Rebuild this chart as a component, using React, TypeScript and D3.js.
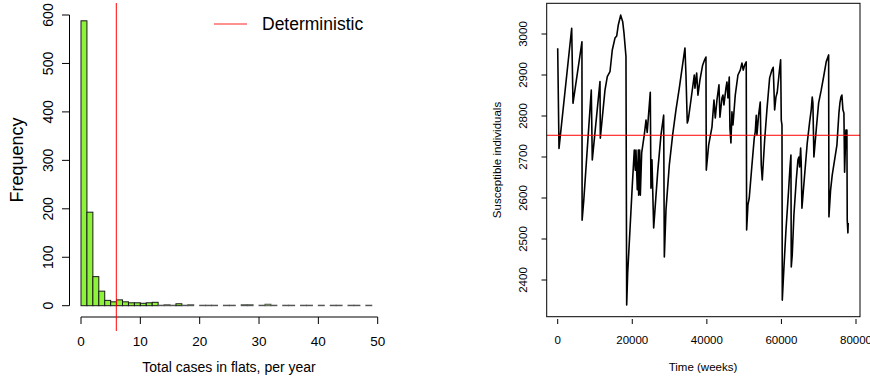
import React from "react";
import * as d3 from "d3";

// Histogram: counts per unit bin starting at 0
const histCounts = [588, 193, 60, 30, 11, 8, 12, 8, 6, 6, 5, 6, 7, 1, 2, 1, 4, 1, 2, 0, 1, 1, 1, 0, 1, 1, 0, 2, 2, 0, 1, 3, 1, 0, 1, 1, 0, 1, 1, 0, 1, 0, 1, 1, 0, 1, 1, 0, 1];
const histXTicks = [0, 10, 20, 30, 40, 50];
const histYTicks = [0, 100, 200, 300, 400, 500, 600];
const deterministicCases = 5.95;

// Time series of susceptible individuals
const seriesWeeks = [0, 350, 3750, 4100, 6500, 6550, 7000, 9008, 9276, 11341, 11430, 12680, 13300, 14020, 14640, 15360, 15820, 16250, 16890, 17430, 17780, 18310, 18500, 18770, 19380, 20000, 20540, 20810, 20990, 21350, 21620, 21710, 21980, 22160, 22520, 23220, 23680, 24000, 24830, 25010, 25280, 25740, 26810, 27700, 28420, 28600, 29040, 29930, 30830, 31720, 32610, 34130, 34400, 34750, 35000, 35740, 36630, 36810, 37270, 37610, 38150, 38870, 39410, 39760, 39850, 40480, 41370, 41910, 42260, 42710, 43250, 43510, 44050, 44320, 44580, 45120, 45390, 45660, 46010, 46190, 46460, 46730, 47000, 47620, 48340, 48960, 49410, 49760, 50130, 50560, 50670, 51020, 51370, 52090, 52710, 52980, 53250, 53430, 53880, 54320, 54590, 54860, 55500, 56110, 56840, 57450, 57800, 58180, 58530, 58880, 59420, 59790, 59960, 60150, 60230, 60680, 61220, 61930, 62280, 62550, 62640, 62900, 63350, 63980, 64430, 64690, 64880, 65150, 65310, 65500, 66220, 66920, 67560, 67990, 68260, 68440, 68710, 69330, 69980, 70670, 71400, 72010, 72660, 72740, 73190, 73620, 74260, 74880, 75420, 75690, 75960, 76220, 76490, 76760, 76940, 77300, 77560, 77650, 77830, 77910];
const seriesSusceptible = [2965, 2721, 3014, 2831, 2981, 2546, 2595, 2863, 2693, 2884, 2746, 2863, 2896, 2908, 2961, 2990, 2995, 3022, 3046, 3030, 3002, 2945, 2339, 2417, 2522, 2630, 2717, 2668, 2717, 2620, 2717, 2607, 2717, 2607, 2710, 2754, 2790, 2760, 2858, 2624, 2693, 2527, 2663, 2754, 2802, 2456, 2571, 2680, 2754, 2815, 2868, 2966, 2900, 2783, 2790, 2839, 2900, 2868, 2905, 2851, 2888, 2924, 2937, 2944, 2668, 2729, 2773, 2839, 2795, 2839, 2876, 2797, 2844, 2851, 2827, 2868, 2883, 2844, 2895, 2771, 2734, 2810, 2778, 2851, 2900, 2912, 2929, 2912, 2924, 2932, 2522, 2583, 2600, 2680, 2746, 2761, 2802, 2754, 2802, 2834, 2680, 2644, 2741, 2815, 2893, 2912, 2919, 2815, 2846, 2858, 2907, 2937, 2790, 2778, 2351, 2432, 2522, 2620, 2673, 2705, 2432, 2461, 2559, 2644, 2693, 2700, 2676, 2722, 2685, 2575, 2656, 2734, 2785, 2815, 2846, 2832, 2700, 2766, 2832, 2863, 2900, 2932, 2949, 2554, 2620, 2656, 2693, 2729, 2807, 2832, 2846, 2851, 2815, 2807, 2663, 2766, 2766, 2546, 2515, 2539];
const seriesXTicks = [0, 20000, 40000, 60000, 80000];
const seriesYTicks = [2400, 2500, 2600, 2700, 2800, 2900, 3000];
const deterministicSusceptible = 2753;

const FONT = "'Liberation Sans', Arial, Helvetica, sans-serif";

export default function App() {
  // Left panel scales
  const xL = d3.scaleLinear().domain([0, 50]).range([81, 377.7]);
  const yL = d3.scaleLinear().domain([0, 600]).range([305.7, 15]);
  // Right panel scales
  const xR = d3.scaleLinear().domain([0, 80000]).range([557.7, 856]);
  const yR = d3.scaleLinear().domain([2400, 3000]).range([280, 34]);

  const pts: [number, number][] = seriesWeeks.map((t, i) => [t, seriesSusceptible[i]]);
  const line = d3
    .line<[number, number]>()
    .x((d) => xR(d[0]))
    .y((d) => yR(d[1]));

  const boxL = 546.7, boxR = 860, boxT = 3.3, boxB = 316.7;

  return (
    <svg
      width={870}
      height={381}
      style={{ position: "absolute", left: 0, top: 0, background: "#fff" }}
      fontFamily={FONT}
    >
      <rect x={0} y={0} width={870} height={381} fill="#fff" />
      {/* ---------- Left: histogram ---------- */}
      <g>
        {histCounts.map((c, i) => (
          <rect
            key={i}
            x={xL(i)}
            y={yL(c)}
            width={xL(i + 1) - xL(i)}
            height={yL(0) - yL(c)}
            fill="#8cf23a"
            stroke={c > 3 ? "#1a1a1a" : "#555"}
            strokeWidth={1}
          />
        ))}
        {/* y axis */}
        <line x1={69.5} x2={69.5} y1={yL(0)} y2={yL(600)} stroke="#000" strokeWidth={1} />
        {histYTicks.map((t) => (
          <g key={t}>
            <line x1={62} x2={69.5} y1={yL(t)} y2={yL(t)} stroke="#000" strokeWidth={1} />
            <text
              x={48}
              y={yL(t)}
              transform={`rotate(-90, 48, ${yL(t)})`}
              textAnchor="middle"
              dominantBaseline="central"
              fontSize={14}
              fill="#000"
            >
              {t}
            </text>
          </g>
        ))}
        {/* x axis */}
        <line x1={xL(0)} x2={xL(50)} y1={317} y2={317} stroke="#000" strokeWidth={1} />
        {histXTicks.map((t) => (
          <g key={t}>
            <line x1={xL(t)} x2={xL(t)} y1={317} y2={324} stroke="#000" strokeWidth={1} />
            <text x={xL(t)} y={346} textAnchor="middle" fontSize={13.5} fill="#000">
              {t}
            </text>
          </g>
        ))}
        <text
          x={17}
          y={160}
          transform="rotate(-90, 17, 160)"
          textAnchor="middle"
          dominantBaseline="central"
          fontSize={18}
          fill="#000"
        >
          Frequency
        </text>
        <text x={229} y={372} textAnchor="middle" fontSize={14} fill="#000">
          Total cases in flats, per year
        </text>
        {/* deterministic line */}
        <line
          x1={xL(deterministicCases)}
          x2={xL(deterministicCases)}
          y1={3}
          y2={331}
          stroke="#ff0000"
          strokeWidth={1}
        />
        {/* legend */}
        <line x1={214} x2={247} y1={24} y2={24} stroke="#ff6b6b" strokeWidth={1.5} />
        <text x={262} y={24} dominantBaseline="central" fontSize={17.5} fill="#000">
          Deterministic
        </text>
      </g>

      {/* ---------- Right: time series ---------- */}
      <g>
        <path d={line(pts) || ""} fill="none" stroke="#000" strokeWidth={1.6} strokeLinejoin="round" />
        <line
          x1={boxL}
          x2={boxR}
          y1={yR(deterministicSusceptible)}
          y2={yR(deterministicSusceptible)}
          stroke="#ff0000"
          strokeWidth={1}
        />
        <rect x={boxL} y={boxT} width={boxR - boxL} height={boxB - boxT} fill="none" stroke="#000" strokeWidth={1} />
        {seriesYTicks.map((t) => (
          <g key={t}>
            <line x1={541.5} x2={boxL} y1={yR(t)} y2={yR(t)} stroke="#000" strokeWidth={1} />
            <text
              x={523}
              y={yR(t)}
              transform={`rotate(-90, 523, ${yR(t)})`}
              textAnchor="middle"
              dominantBaseline="central"
              fontSize={11.5}
              fill="#000"
            >
              {t}
            </text>
          </g>
        ))}
        {seriesXTicks.map((t) => (
          <g key={t}>
            <line x1={xR(t)} x2={xR(t)} y1={319} y2={324} stroke="#000" strokeWidth={1} />
            <text x={xR(t)} y={344} textAnchor="middle" fontSize={11.5} fill="#000">
              {t}
            </text>
          </g>
        ))}
        <text
          x={497}
          y={160}
          transform="rotate(-90, 497, 160)"
          textAnchor="middle"
          dominantBaseline="central"
          fontSize={11.5}
          fill="#000"
        >
          Susceptible individuals
        </text>
        <text x={703} y={371} textAnchor="middle" fontSize={11.5} fill="#000">
          Time (weeks)
        </text>
      </g>
    </svg>
  );
}
